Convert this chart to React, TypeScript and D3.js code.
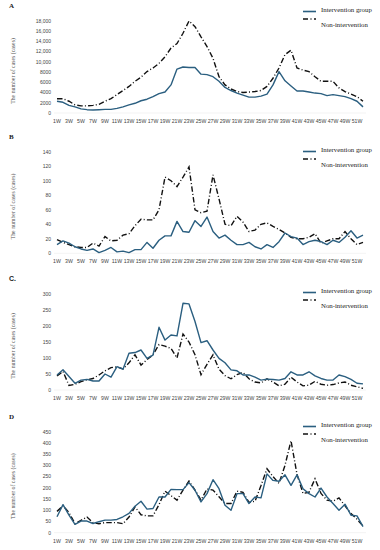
import React from 'react';
import * as d3 from 'd3';

const weeks = d3.range(1, 53).map(w => `${w}W`);
const weekTicks = weeks.filter((_, i) => i % 2 === 0);

// Panel A
const interventionA = [
  2300, 2100, 1500, 1200, 800, 650, 600, 650, 700, 700, 900, 1200, 1600, 1900, 2400, 2700,
  3200, 3800, 4100, 5500, 8600, 9000, 8900, 8900, 7600, 7500, 7100, 6200, 5000, 4400, 3900,
  3500, 3100, 3100, 3300, 3700, 5500, 8100, 6300, 5300, 4300, 4300, 4100, 3900, 3800, 3400,
  3600, 3400, 3200, 2800, 2300, 1200
];
const nonInterventionA = [
  2800, 2800, 2300, 1600, 1400, 1400, 1500, 1700, 2300, 2800, 3600, 4400, 5200, 6200, 7000,
  8100, 8800, 9700, 11000, 12700, 13600, 15600, 18000, 16900, 14900, 13000, 10700, 7100,
  5500, 4700, 4200, 4000, 4100, 4200, 4400, 5200, 6800, 8800, 11400, 12300, 8800, 8400, 8100,
  7100, 6200, 6200, 6200, 4900, 4200, 3700, 3200, 2300
];
const yTicksA = [0, 2000, 4000, 6000, 8000, 10000, 12000, 14000, 16000, 18000];

// Panel B
const interventionB = [
  12, 17, 14, 9, 6, 4, 6, 1, 4, 8, 2, 3, 1, 5, 5, 15, 7, 18, 24, 24, 44, 30, 29, 45, 37, 50,
  30, 21, 25, 18, 12, 12, 15, 9, 6, 12, 8, 16, 28, 23, 21, 12, 16, 18, 16, 12, 18, 15, 22, 31,
  21, 25
];
const nonInterventionB = [
  19, 15, 12, 9, 8, 8, 14, 10, 23, 17, 18, 25, 27, 38, 47, 46, 46, 60, 105, 100, 92, 105, 119,
  60, 56, 58, 108, 75, 40, 38, 51, 43, 30, 32, 40, 42, 37, 33, 28, 22, 20, 20, 22, 27, 14, 17,
  20, 20, 30, 20, 12, 15
];
const yTicksB = [0, 20, 40, 60, 80, 100, 120, 140];

// Panel C
const interventionC = [
  47, 63, 42, 21, 31, 33, 28, 28, 50, 40, 73, 65, 115, 117, 125, 99, 109, 196, 156, 172, 169,
  271, 269, 214, 148, 154, 125, 99, 85, 63, 60, 47, 47, 40, 31, 34, 33, 31, 36, 57, 47, 47, 57,
  44, 36, 31, 31, 47, 42, 33, 21, 19
];
const nonInterventionC = [
  44, 58, 14, 18, 26, 32, 36, 47, 60, 70, 72, 66, 85, 110, 78, 95, 110, 142, 137, 130, 100,
  175, 150, 110, 48, 80, 110, 65, 45, 35, 48, 55, 35, 25, 22, 35, 25, 13, 18, 40, 25, 13, 15,
  27, 18, 15, 17, 22, 25, 15, 10, 5
];
const yTicksC = [0, 50, 100, 150, 200, 250, 300];

// Panel D
const interventionD = [
  71, 125, 78, 37, 52, 52, 41, 49, 56, 56, 59, 71, 86, 118, 140, 105, 108, 159, 159, 193, 192,
  192, 223, 189, 137, 174, 236, 196, 122, 100, 174, 174, 130, 159, 155, 262, 233, 229, 258,
  211, 258, 196, 174, 159, 199, 159, 130, 100, 127, 78, 75, 27
];
const nonInterventionD = [
  95, 120, 90, 40, 55, 70, 45, 40, 45, 45, 45, 40, 70, 115, 80, 75, 75, 125, 185, 165, 145,
  190, 230, 190, 145, 195, 190, 160, 130, 130, 185, 180, 135, 140, 210, 285, 250, 220, 300,
  410, 260, 175, 180, 240, 175, 145, 140, 155, 120, 85, 60, 30
];
const yTicksD = [0, 50, 100, 150, 200, 250, 300, 350, 400, 450];

const seriesNames = ['Intervention group', 'Non-intervention'];

const panels = [
  { label: 'A', labelFont: 'Liberation Serif', top: 21, bottom: 113, a: interventionA, b: nonInterventionA, ticks: yTicksA, legendY: 9 },
  { label: 'B', labelFont: 'Liberation Serif', top: 151.7, bottom: 253.3, a: interventionB, b: nonInterventionB, ticks: yTicksB, legendY: 149 },
  { label: 'C.', labelFont: 'Liberation Sans', top: 294, bottom: 390, a: interventionC, b: nonInterventionC, ticks: yTicksC, legendY: 290 },
  { label: 'D', labelFont: 'Liberation Serif', top: 431.7, bottom: 532.7, a: interventionD, b: nonInterventionD, ticks: yTicksD, legendY: 424 },
];

const blue = '#2b5f80';
const tickFmt = (d: number) => (d >= 10000 ? d3.format(',')(d) : String(d));

const x = d3.scalePoint<string>().domain(weeks).range([57, 363]);

const Panel = ({ p }: { p: typeof panels[number] }) => {
  const y = d3
    .scaleLinear()
    .domain([0, p.ticks[p.ticks.length - 1]])
    .range([p.bottom, p.top]);
  const line = d3
    .line<number>()
    .x((_, i) => x(weeks[i]) as number)
    .y(d => y(d));
  const mid = (p.top + p.bottom) / 2 + 4;
  return (
    <g>
      <text x={9} y={p.top - 13} fontFamily={p.labelFont} fontWeight="bold" fontSize={7} fill="#222">
        {p.label}
      </text>
      <text
        transform={`translate(15,${mid}) rotate(-90)`}
        textAnchor="middle"
        fontFamily="Liberation Serif"
        fontSize={5.8}
        fill="#555"
      >
        The number of cases (cases)
      </text>
      {p.ticks.map(t => (
        <text key={t} x={51} y={y(t) + 1.8} textAnchor="end" fontFamily="Liberation Sans" fontSize={5} fill="#444">
          {tickFmt(t)}
        </text>
      ))}
      <line x1={54} x2={366} y1={p.bottom} y2={p.bottom} stroke="#e6e6e6" strokeWidth={0.5} />
      {weekTicks.map(w => (
        <text key={w} x={x(w)} y={p.bottom + 10} textAnchor="middle" fontFamily="Liberation Sans" fontSize={5.2} fill="#444">
          {w}
        </text>
      ))}
      <path d={line(p.b) || ''} fill="none" stroke="#111" strokeWidth={1.4} strokeDasharray="5.5,2.2,1,2.2" />
      <path d={line(p.a) || ''} fill="none" stroke={blue} strokeWidth={1.4} strokeLinejoin="round" />
      <line x1={303} x2={316} y1={p.legendY + 2.5} y2={p.legendY + 2.5} stroke={blue} strokeWidth={1.6} />
      <text x={321} y={p.legendY + 2.5} fontFamily="Liberation Serif" fontSize={6.8} fill="#222">
        {seriesNames[0]}
      </text>
      <line x1={303} x2={316} y1={p.legendY + 10} y2={p.legendY + 10} stroke="#111" strokeWidth={1.6} strokeDasharray="5,2.5,1,2.5" />
      <text x={321} y={p.legendY + 17.5} fontFamily="Liberation Serif" fontSize={6.8} fill="#222">
        {seriesNames[1]}
      </text>
    </g>
  );
};

export default function App() {
  return (
    <svg
      width={380}
      height={550}
      style={{ position: 'absolute', left: 0, top: 0, background: '#fff' }}
    >
      {panels.map(p => (
        <Panel key={p.label} p={p} />
      ))}
    </svg>
  );
}
